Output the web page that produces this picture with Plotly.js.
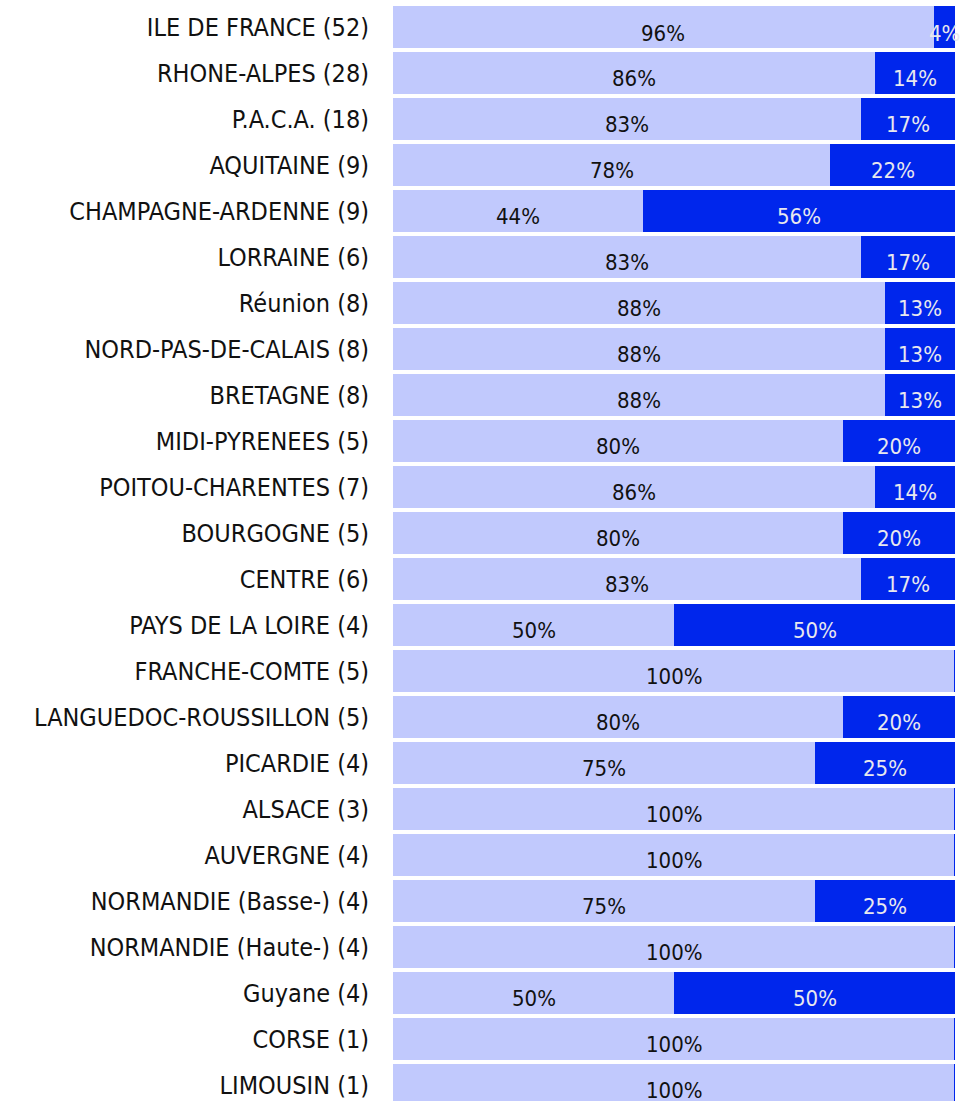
<!DOCTYPE html>
<html>
<head>
<meta charset="utf-8">
<script src="https://cdn.plot.ly/plotly-3.0.1.min.js"></script>
<style>html,body{margin:0;padding:0;background:#fff;}#chart{width:967px;height:1101px;}</style>
</head>
<body>
<div id="chart"></div>
<script>
const regions = ["ILE DE FRANCE (52)","RHONE-ALPES (28)","P.A.C.A. (18)","AQUITAINE (9)","CHAMPAGNE-ARDENNE (9)","LORRAINE (6)","Réunion (8)","NORD-PAS-DE-CALAIS (8)","BRETAGNE (8)","MIDI-PYRENEES (5)","POITOU-CHARENTES (7)","BOURGOGNE (5)","CENTRE (6)","PAYS DE LA LOIRE (4)","FRANCHE-COMTE (5)","LANGUEDOC-ROUSSILLON (5)","PICARDIE (4)","ALSACE (3)","AUVERGNE (4)","NORMANDIE (Basse-) (4)","NORMANDIE (Haute-) (4)","Guyane (4)","CORSE (1)","LIMOUSIN (1)"];
const lightValues = [96.2,85.7,83.3,77.8,44.4,83.3,87.5,87.5,87.5,80,85.7,80,83.3,50,100,80,75,100,100,75,100,50,100,100];
const darkValues  = [3.8,14.3,16.7,22.2,55.6,16.7,12.5,12.5,12.5,20,14.3,20,16.7,50,0,20,25,0,0,25,0,50,0,0];
const lightLabels = ["96%","86%","83%","78%","44%","83%","88%","88%","88%","80%","86%","80%","83%","50%","100%","80%","75%","100%","100%","75%","100%","50%","100%","100%"];
const darkLabels  = ["4%","14%","17%","22%","56%","17%","13%","13%","13%","20%","14%","20%","17%","50%","","20%","25%","","","25%","","50%","",""];

const LIGHT = "#c1c9fd", DARK = "#0026ec";
const FONT = "DejaVu Sans Condensed, Liberation Sans Narrow, DejaVu Sans, sans-serif";

const traces = [
  {type:"bar", orientation:"h", y:regions, x:lightValues, marker:{color:LIGHT}, hoverinfo:"none"},
  {type:"bar", orientation:"h", y:regions, x:darkValues, marker:{color:DARK}, hoverinfo:"none"}
];

const annotations = [];
const shapes = [];
regions.forEach((r,i)=>{
  annotations.push({x: lightValues[i]/2, y: r, xref:"x", yref:"y", text: lightLabels[i], showarrow:false,
    yshift:-6, font:{family:FONT, size:22, color:"#111"}});
  if (darkValues[i] > 0) {
    annotations.push({x: lightValues[i] + darkValues[i]/2, y: r, xref:"x", yref:"y", text: darkLabels[i], showarrow:false,
      yshift:-6, font:{family:FONT, size:22, color:"#e8e8ee"}});
  } else {
    shapes.push({type:"line", xref:"x", yref:"y", x0:lightValues[i], x1:lightValues[i], y0:i-0.457, y1:i+0.457,
      line:{color:DARK, width:2}});
  }
});

const layout = {
  width:967, height:1101,
  margin:{l:393, r:12, t:4, b:0, pad:0},
  barmode:"stack", bargap:0.087,
  showlegend:false,
  paper_bgcolor:"#fff", plot_bgcolor:"#fff",
  xaxis:{range:[0,100], visible:false, fixedrange:true},
  yaxis:{type:"category", range:[23.35,-0.5], showgrid:false, zeroline:false, showline:false, ticks:"",
    ticklabelstandoff:23, tickfont:{family:FONT, size:25, color:"#111"}, fixedrange:true},
  annotations: annotations,
  shapes: shapes
};

Plotly.newPlot("chart", traces, layout, {displayModeBar:false, staticPlot:true});
</script>
</body>
</html>
